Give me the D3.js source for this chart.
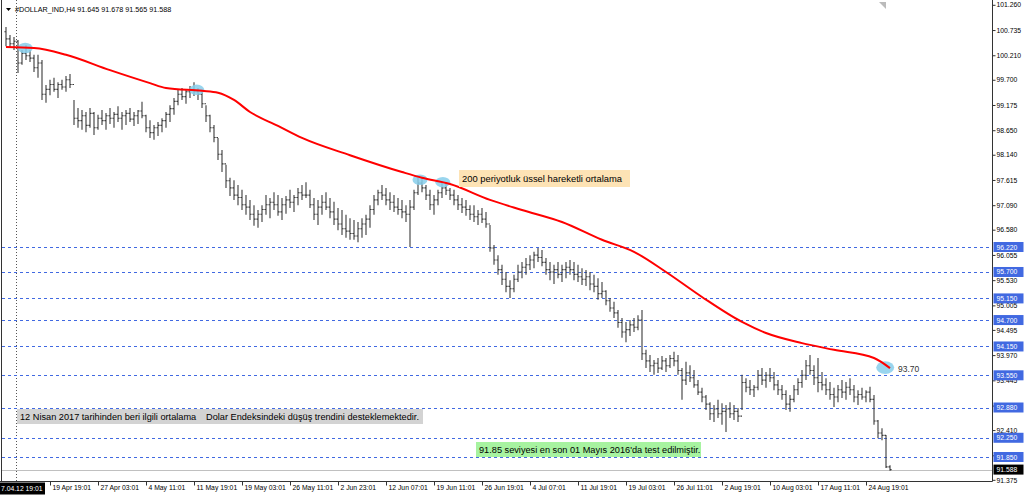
<!DOCTYPE html>
<html><head><meta charset="utf-8">
<script src="https://cdn.jsdelivr.net/npm/d3@7"></script>
<style>body{margin:0;background:#fff;overflow:hidden}svg{display:block;font-family:"Liberation Sans",Arial,sans-serif}</style>
</head><body><svg id="c" width="1024" height="499"></svg>
<script>
// ---- data ----
const highs = [100.80,100.63,100.59,100.53,100.32,100.42,100.32,100.22,100.22,100.11,
99.59,99.70,99.74,99.65,99.70,99.78,99.82,99.28,99.11,99.07,
99.03,99.11,99.03,98.97,99.07,99.01,99.11,99.03,99.15,99.03,
99.07,99.11,99.03,99.07,99.24,98.97,98.86,98.76,98.82,98.90,
99.03,99.17,99.32,99.49,99.53,99.49,99.57,99.65,99.53,99.49,
99.17,98.97,98.76,98.49,98.24,97.93,97.66,97.61,97.51,97.41,
97.30,97.20,97.09,96.99,97.09,97.30,97.24,97.36,97.30,97.24,
97.28,97.41,97.30,97.45,97.51,97.57,97.41,97.24,97.20,97.30,
97.36,97.24,97.16,97.03,96.99,96.89,96.82,96.78,96.74,96.82,
96.89,97.09,97.30,97.41,97.51,97.45,97.36,97.30,97.24,97.20,
97.09,97.20,97.41,97.66,97.66,97.51,97.41,97.30,97.41,97.57,
97.57,97.45,97.41,97.30,97.24,97.20,97.09,97.09,96.99,97.03,
96.95,96.68,96.26,96.05,95.85,95.70,95.53,95.64,95.85,95.91,
95.99,96.05,96.12,96.20,96.16,95.99,95.91,95.85,95.91,95.85,
95.91,95.95,95.91,95.85,95.78,95.74,95.70,95.64,95.57,95.49,
95.32,95.16,95.08,94.91,94.74,94.66,94.70,94.74,94.80,94.91,
94.08,93.97,93.87,93.91,93.95,93.91,93.97,94.04,93.97,93.70,
93.83,93.76,93.66,93.45,93.29,93.14,92.99,92.93,93.04,92.97,
92.93,92.99,92.93,92.87,93.56,93.49,93.45,93.35,93.66,93.70,
93.62,93.70,93.62,93.45,93.35,93.24,93.14,93.35,93.49,93.66,
93.87,93.97,93.76,93.91,93.62,93.49,93.41,93.29,93.35,93.45,
93.41,93.49,93.35,93.24,93.29,93.24,93.31,93.14,92.62,92.45,
92.31,91.678];
const lows = [100.40,100.36,100.32,99.84,100.01,100.11,100.07,99.86,99.74,99.28,
99.22,99.38,99.45,99.32,99.49,99.45,99.53,98.76,98.70,98.66,
98.61,98.70,98.55,98.66,98.76,98.66,98.78,98.70,98.82,98.66,
98.76,98.82,98.74,98.78,98.90,98.61,98.49,98.45,98.53,98.61,
98.70,98.82,98.97,99.17,99.28,99.20,99.32,99.36,99.28,99.11,
98.82,98.61,98.40,98.03,97.78,97.45,97.28,97.20,97.09,96.99,
96.89,96.78,96.66,96.62,96.74,96.89,96.82,96.99,96.87,96.78,
96.91,97.03,96.95,97.09,97.20,97.24,97.03,96.78,96.68,96.89,
96.99,96.82,96.68,96.57,96.47,96.41,96.37,96.37,96.32,96.41,
96.47,96.62,96.89,97.09,97.20,97.09,96.99,96.95,96.89,96.82,
96.74,96.22,96.99,97.30,97.36,97.20,96.99,96.89,97.09,97.24,
97.30,97.20,97.09,96.99,96.93,96.87,96.78,96.74,96.68,96.72,
96.62,96.12,95.85,95.64,95.43,95.28,95.16,95.28,95.49,95.57,
95.64,95.74,95.78,95.91,95.82,95.64,95.53,95.45,95.57,95.49,
95.57,95.64,95.53,95.49,95.43,95.41,95.32,95.28,95.12,95.16,
95.01,94.87,94.74,94.54,94.33,94.24,94.37,94.45,94.49,93.87,
93.70,93.62,93.56,93.60,93.66,93.62,93.70,93.74,93.56,93.04,
93.35,93.41,93.29,93.14,92.99,92.83,92.62,92.58,92.66,92.52,
92.37,92.66,92.62,92.58,92.83,93.20,93.14,93.10,93.24,93.35,
93.29,93.41,93.24,93.14,93.04,92.83,92.79,92.99,93.14,93.29,
93.45,93.56,93.35,93.20,93.24,93.14,93.04,92.89,92.99,93.08,
93.04,93.14,92.99,92.93,93.04,92.99,92.99,92.52,92.24,92.20,
91.62,91.565];
const closes = [100.55,100.45,100.50,100.05,100.25,100.20,100.15,99.95,100.05,99.40,
99.50,99.60,99.50,99.60,99.55,99.70,99.60,98.90,98.85,98.95,
98.75,99.00,98.70,98.90,98.85,98.95,98.90,98.98,98.90,98.95,
99.00,98.88,98.95,99.05,98.95,98.70,98.60,98.70,98.75,98.85,
98.98,99.10,99.25,99.40,99.35,99.45,99.50,99.45,99.40,99.20,
98.95,98.70,98.50,98.15,97.95,97.60,97.45,97.30,97.25,97.10,
97.05,96.90,96.80,96.90,97.00,97.10,97.15,97.10,96.95,97.10,
97.20,97.15,97.25,97.35,97.30,97.30,97.10,96.90,97.05,97.15,
97.05,96.95,96.80,96.70,96.60,96.55,96.50,96.45,96.60,96.70,
96.80,97.00,97.20,97.35,97.30,97.20,97.15,97.05,97.00,96.95,
96.90,97.05,97.35,97.55,97.45,97.30,97.10,97.20,97.35,97.45,
97.40,97.30,97.20,97.10,97.05,97.00,96.90,96.85,96.90,96.80,
96.70,96.20,95.95,95.75,95.55,95.40,95.35,95.55,95.70,95.80,
95.85,95.95,96.05,96.00,95.90,95.75,95.70,95.75,95.65,95.75,
95.80,95.75,95.65,95.60,95.55,95.60,95.45,95.40,95.25,95.30,
95.10,94.95,94.85,94.65,94.45,94.50,94.60,94.55,94.70,94.00,
93.85,93.75,93.80,93.70,93.85,93.75,93.90,93.85,93.65,93.45,
93.60,93.50,93.35,93.20,93.10,92.95,92.75,92.85,92.75,92.80,
92.85,92.75,92.80,92.70,93.40,93.30,93.25,93.30,93.55,93.45,
93.55,93.50,93.35,93.25,93.15,92.95,93.05,93.25,93.40,93.55,
93.75,93.65,93.50,93.40,93.35,93.25,93.15,93.10,93.25,93.20,
93.30,93.25,93.10,93.15,93.10,93.20,93.05,92.60,92.35,92.30,
91.645,91.588];
const firstOpen = 100.70;
const emaIdx = [1,8,16,27,37,41,50,54,58,62,69,75,87,100,105,112,122,130,140,150,158,166,175,185,191,200,208,218,222];
const emaVal = [100.38,100.36,100.22,99.90,99.63,99.53,99.47,99.43,99.28,99.03,98.74,98.49,98.13,97.78,97.66,97.53,97.20,96.99,96.74,96.37,96.12,95.70,95.18,94.66,94.43,94.22,94.08,93.91,93.70];
const levels = [96.22,95.70,95.15,94.70,94.15,93.55,92.88,92.25,91.85];
const priceTicks = [101.260,100.735,100.210,99.700,99.175,98.650,98.140,97.615,97.090,96.580,96.055,95.530,95.005,94.495,93.970,93.445,92.920,92.410,91.885,91.375];
const lastPrice = 91.588;
const timeLabels = ["19 Apr 19:01","27 Apr 03:01","4 May 11:01","11 May 19:01","19 May 03:01","26 May 11:01","2 Jun 23:01","12 Jun 07:01","19 Jun 11:01","26 Jun 19:01","4 Jul 07:01","11 Jul 19:01","19 Jul 03:01","26 Jul 11:01","2 Aug 19:01","10 Aug 03:01","17 Aug 11:01","24 Aug 19:01"];
const timeIdx = [12,24,36,48,60,72,84,96,108,120,132,144,156,168,180,192,204,216];
const startLabel = "7.04.12 19:01";
const startIdx = 3.5;
const marks = [{i:5.8,v:100.36,r:7.5},{i:48.7,v:99.49,r:7.5},{i:104.5,v:97.62,r:7.5},{i:110.2,v:97.57,r:7.5},{i:220.8,v:93.71,r:9}];

// ---- drawing ----
const svg = d3.select("#c");
const R = 992.5, B = 481.5;
const x = d3.scaleLinear().domain([0,223]).range([2,894]);
const y = d3.scaleLinear().domain([91.85,96.22]).range([457,247]);

svg.append("rect").attr("width",1024).attr("height",499).attr("fill","#fff");

// vertical separator
svg.append("line").attr("x1",Math.round(x(startIdx))+0.5).attr("x2",Math.round(x(startIdx))+0.5)
  .attr("y1",0).attr("y2",B).attr("stroke","#555").attr("stroke-dasharray","1,2");

// level lines
svg.selectAll(".lvl").data(levels).join("line")
  .attr("x1",2).attr("x2",R).attr("y1",d=>Math.round(y(d))+0.5).attr("y2",d=>Math.round(y(d))+0.5)
  .attr("stroke","#4169E1").attr("stroke-dasharray","3,3").attr("stroke-width",1);
// bid line
svg.append("line").attr("x1",2).attr("x2",R).attr("y1",Math.round(y(lastPrice))+0.5).attr("y2",Math.round(y(lastPrice))+0.5)
  .attr("stroke","#c0c0c0");

// OHLC bars (open = previous close)
const bars = highs.map((h,k)=>({i:k+1,h:h,l:lows[k],c:closes[k],o:k===0?firstOpen:closes[k-1]}));
const gb = svg.append("g").attr("stroke","#3a3a3a").attr("stroke-width",1.1);
gb.selectAll(".hl").data(bars).join("line")
  .attr("x1",d=>x(d.i)).attr("x2",d=>x(d.i)).attr("y1",d=>y(d.h)).attr("y2",d=>y(d.l));
gb.selectAll(".op").data(bars).join("line")
  .attr("x1",d=>x(d.i)-1.6).attr("x2",d=>x(d.i)).attr("y1",d=>y(d.o)).attr("y2",d=>y(d.o));
gb.selectAll(".cl").data(bars).join("line")
  .attr("x1",d=>x(d.i)).attr("x2",d=>x(d.i)+1.6).attr("y1",d=>y(d.c)).attr("y2",d=>y(d.c));

// highlight ellipses
svg.selectAll(".mk").data(marks).join("ellipse")
  .attr("cx",d=>x(d.i)).attr("cy",d=>y(d.v)).attr("rx",d=>d.r).attr("ry",d=>d.r*0.7)
  .attr("fill","#87CEEB").attr("opacity",0.85);

// EMA
const emaPts = emaIdx.map((i,k)=>[i,emaVal[k]]);
svg.append("path").datum(emaPts)
  .attr("d",d3.line().x(d=>x(d[0])).y(d=>y(d[1])).curve(d3.curveMonotoneX))
  .attr("fill","none").attr("stroke","#ff0000").attr("stroke-width",2);

// frame
svg.append("line").attr("x1",1.5).attr("x2",1.5).attr("y1",0).attr("y2",B).attr("stroke","#333");
svg.append("line").attr("x1",R).attr("x2",R).attr("y1",0).attr("y2",B).attr("stroke","#333");
svg.append("line").attr("x1",0).attr("x2",R).attr("y1",B).attr("y2",B).attr("stroke","#333");

// price axis
const ya = d3.axisRight(y).tickValues(priceTicks).tickSize(3).tickFormat(d3.format(".3f"));
const gy = svg.append("g").attr("transform",`translate(${R},0)`).call(ya);
gy.select(".domain").remove();
gy.selectAll("text").attr("font-size",6.8).attr("font-family","Liberation Sans, Arial").attr("fill","#000").attr("x",4);
gy.selectAll("line").attr("stroke","#333");

// highlighted price labels
const hl = svg.append("g");
levels.forEach(v=>{
  const yy = y(v);
  hl.append("rect").attr("x",R+1).attr("y",yy-5).attr("width",30).attr("height",10).attr("fill","#4169E1");
  hl.append("text").attr("x",R+4).attr("y",yy+2.5).attr("font-size",6.8).attr("fill","#fff").text(v.toFixed(3));
});
hl.append("rect").attr("x",R+1).attr("y",y(lastPrice)-5).attr("width",30).attr("height",10).attr("fill","#000");
hl.append("text").attr("x",R+4).attr("y",y(lastPrice)+2.5).attr("font-size",6.8).attr("fill","#fff").text(lastPrice.toFixed(3));

// time axis
const xa = d3.axisBottom(x).tickValues(timeIdx).tickSize(4).tickFormat((d,k)=>timeLabels[k]);
const gx = svg.append("g").attr("transform",`translate(0,${B})`).call(xa);
gx.select(".domain").remove();
gx.selectAll("line").attr("stroke","#333");
gx.selectAll("text").attr("font-size",6.8).attr("fill","#000").attr("text-anchor","start").attr("x",2).attr("y",4).attr("dy","0.71em");
// start label
svg.append("rect").attr("x",0).attr("y",B+1).attr("width",45).attr("height",12).attr("fill","#000");
svg.append("text").attr("x",1).attr("y",B+9.5).attr("font-size",6.8).attr("fill","#fff").text(startLabel);

// header
svg.append("path").attr("d","M6,8 L11,8 L8.5,11 Z").attr("fill","#000");
svg.append("text").attr("x",15).attr("y",12).attr("font-size",7.2).attr("fill","#000").text("#DOLLAR_IND,H4  91.645 91.678 91.565 91.588");
svg.append("path").attr("d","M879,2 L886,2 L886,9 Z").attr("fill","#bbb");

// annotations
function note(xx,yy,w,h,fill,txt,fs){
  svg.append("rect").attr("x",xx).attr("y",yy).attr("width",w).attr("height",h).attr("fill",fill);
  svg.append("text").attr("x",xx+3).attr("y",yy+h/2+3.2).attr("font-size",fs).attr("fill","#000").text(txt);
}
note(459,170,171,17,"#fde3b5","200 periyotluk üssel hareketli ortalama",9.4);
note(17,409,186,15,"#d3d3d3","12 Nisan 2017 tarihinden beri ilgili ortalama",9.2);
note(203,409,220,15,"#d3d3d3","Dolar Endeksindeki düşüş trendini desteklemektedir.",9.2);
note(476,442,225,15,"#a7f3a0","91.85 seviyesi en son 01 Mayıs 2016'da test edilmiştir.",9.2);
svg.append("text").attr("x",898).attr("y",372).attr("font-size",8.5).attr("fill","#333").text("93.70");
</script></body></html>
